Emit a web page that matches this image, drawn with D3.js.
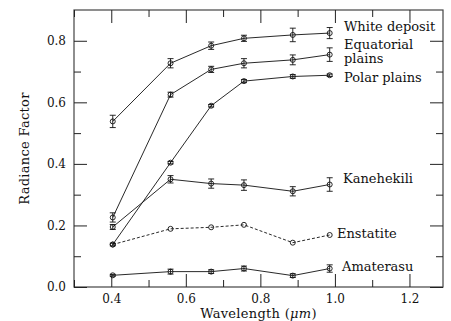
<!DOCTYPE html>
<html><head><meta charset="utf-8">
<script src="https://cdn.jsdelivr.net/npm/d3@7"></script>
<style>body{margin:0;background:#fff}svg{display:block}</style>
</head><body>
<script>
const wavelengths = [0.404, 0.559, 0.668, 0.756, 0.887, 0.986];
const seriesNames = ["White deposit", "Equatorial plains", "Polar plains", "Kanehekili", "Enstatite", "Amaterasu"];
const whiteDeposit = [0.538, 0.727, 0.784, 0.808, 0.819, 0.825];
const whiteDepositErr = [0.02, 0.015, 0.012, 0.01, 0.022, 0.018];
const equatorialPlains = [0.226, 0.625, 0.707, 0.727, 0.738, 0.755];
const equatorialPlainsErr = [0.015, 0.008, 0.01, 0.015, 0.016, 0.022];
const polarPlains = [0.138, 0.404, 0.589, 0.669, 0.684, 0.688];
const polarPlainsErr = [0.004, 0.004, 0.004, 0.005, 0.006, 0.004];
const kanehekili = [0.195, 0.35, 0.336, 0.331, 0.311, 0.333];
const kanehekiliErr = [0.008, 0.012, 0.015, 0.017, 0.015, 0.022];
const enstatite = [0.138, 0.189, 0.194, 0.202, 0.144, 0.169];
const amaterasu = [0.038, 0.05, 0.05, 0.06, 0.037, 0.06];
const amaterasuErr = [0.003, 0.008, 0.006, 0.008, 0.006, 0.012];
const xTicks = [0.4, 0.6, 0.8, 1.0, 1.2];
const yTicks = [0.0, 0.2, 0.4, 0.6, 0.8];

const W = 451, H = 321;
const m = {l: 74, r: 8, t: 10, b: 34};
const svg = d3.select("body").append("svg").attr("width", W).attr("height", H);
const x = d3.scaleLinear().domain([0.3, 1.29]).range([m.l, W - m.r]);
const y = d3.scaleLinear().domain([0, 0.9]).range([H - m.b, m.t]);
const font = "'DejaVu Serif', serif";
const fs = 13;

const series = [
  {name: seriesNames[0], v: whiteDeposit, e: whiteDepositErr, dash: null},
  {name: seriesNames[1], v: equatorialPlains, e: equatorialPlainsErr, dash: null},
  {name: seriesNames[2], v: polarPlains, e: polarPlainsErr, dash: null},
  {name: seriesNames[3], v: kanehekili, e: kanehekiliErr, dash: null},
  {name: seriesNames[4], v: enstatite, e: null, dash: "3,2"},
  {name: seriesNames[5], v: amaterasu, e: amaterasuErr, dash: null}
];

// frame
svg.append("rect").attr("x", x(0.3)).attr("y", y(0.9)).attr("width", x(1.29) - x(0.3)).attr("height", y(0) - y(0.9))
  .attr("fill", "none").attr("stroke", "#444").attr("stroke-width", 1.2);

const minorX = d3.range(0.3, 1.29, 0.1).map(d => +d.toFixed(2)).filter(d => !xTicks.some(t => Math.abs(t - d) < 1e-6));
const minorY = d3.range(0.1, 0.9, 0.2).map(d => +d.toFixed(2));

// axes with inward ticks
svg.append("g").attr("transform", `translate(0,${y(0)})`)
  .call(d3.axisBottom(x).tickValues(xTicks).tickSize(-13).tickPadding(7).tickFormat(d3.format(".1f")));
svg.append("g").attr("transform", `translate(0,${y(0.9)})`)
  .call(d3.axisTop(x).tickValues(xTicks).tickSize(-13).tickFormat(""));
svg.append("g").attr("transform", `translate(${x(0.3)},0)`)
  .call(d3.axisLeft(y).tickValues(yTicks).tickSize(-13).tickPadding(8).tickFormat(d3.format(".1f")));
svg.append("g").attr("transform", `translate(${x(1.29)},0)`)
  .call(d3.axisRight(y).tickValues(yTicks).tickSize(-13).tickFormat(""));
svg.append("g").attr("transform", `translate(0,${y(0)})`).call(d3.axisBottom(x).tickValues(minorX).tickSize(-7).tickFormat(""));
svg.append("g").attr("transform", `translate(0,${y(0.9)})`).call(d3.axisTop(x).tickValues(minorX).tickSize(-7).tickFormat(""));
svg.append("g").attr("transform", `translate(${x(0.3)},0)`).call(d3.axisLeft(y).tickValues(minorY).tickSize(-7).tickFormat(""));
svg.append("g").attr("transform", `translate(${x(1.29)},0)`).call(d3.axisRight(y).tickValues(minorY).tickSize(-7).tickFormat(""));
svg.selectAll(".domain").remove();
svg.selectAll(".tick line").attr("stroke", "#222");
svg.selectAll(".tick text").attr("font-family", font).attr("font-size", 12).attr("fill", "#111");

// series
const line = d3.line().x((d, i) => x(wavelengths[i])).y(d => y(d));
series.forEach(s => {
  const g = svg.append("g");
  g.append("path").attr("d", line(s.v)).attr("fill", "none").attr("stroke", "#111").attr("stroke-width", 0.9)
    .attr("stroke-dasharray", s.dash);
  if (s.e) {
    s.v.forEach((v, i) => {
      const cx = x(wavelengths[i]);
      const y1 = y(v + s.e[i]), y2 = y(v - s.e[i]);
      g.append("line").attr("x1", cx).attr("x2", cx).attr("y1", y1).attr("y2", y2).attr("stroke", "#111").attr("stroke-width", 0.9);
      [y1, y2].forEach(yy => g.append("line").attr("x1", cx - 3).attr("x2", cx + 3).attr("y1", yy).attr("y2", yy).attr("stroke", "#111").attr("stroke-width", 0.9));
    });
  }
  g.selectAll("circle").data(s.v).join("circle")
    .attr("cx", (d, i) => x(wavelengths[i])).attr("cy", d => y(d)).attr("r", 2.5)
    .attr("fill", "none").attr("stroke", "#111").attr("stroke-width", 0.9);
});

// series labels
const labels = [
  {lines: ["White deposit"], lx: 344, ly: 31},
  {lines: ["Equatorial", "plains"], lx: 344, ly: 49},
  {lines: ["Polar plains"], lx: 344, ly: 82},
  {lines: ["Kanehekili"], lx: 343, ly: 183},
  {lines: ["Enstatite"], lx: 337, ly: 238},
  {lines: ["Amaterasu"], lx: 342, ly: 271}
];
labels.forEach(l => {
  const t = svg.append("text").attr("font-family", font).attr("font-size", fs).attr("fill", "#111");
  l.lines.forEach((s, i) => t.append("tspan").attr("x", l.lx).attr("y", l.ly + i * 14).text(s));
});

// axis titles
svg.append("text").attr("transform", `translate(29,${(y(0) + y(0.9)) / 2}) rotate(-90)`)
  .attr("text-anchor", "middle").attr("font-family", font).attr("font-size", fs).attr("fill", "#111")
  .attr("letter-spacing", 0.3).text("Radiance Factor");
const xt = svg.append("text").attr("x", (x(0.3) + x(1.29)) / 2).attr("y", 318).attr("text-anchor", "middle")
  .attr("font-family", font).attr("font-size", fs).attr("fill", "#111").attr("letter-spacing", 0.3);
xt.append("tspan").text("Wavelength (");
xt.append("tspan").attr("font-style", "italic").text("μm");
xt.append("tspan").text(")");
</script>
</body></html>
